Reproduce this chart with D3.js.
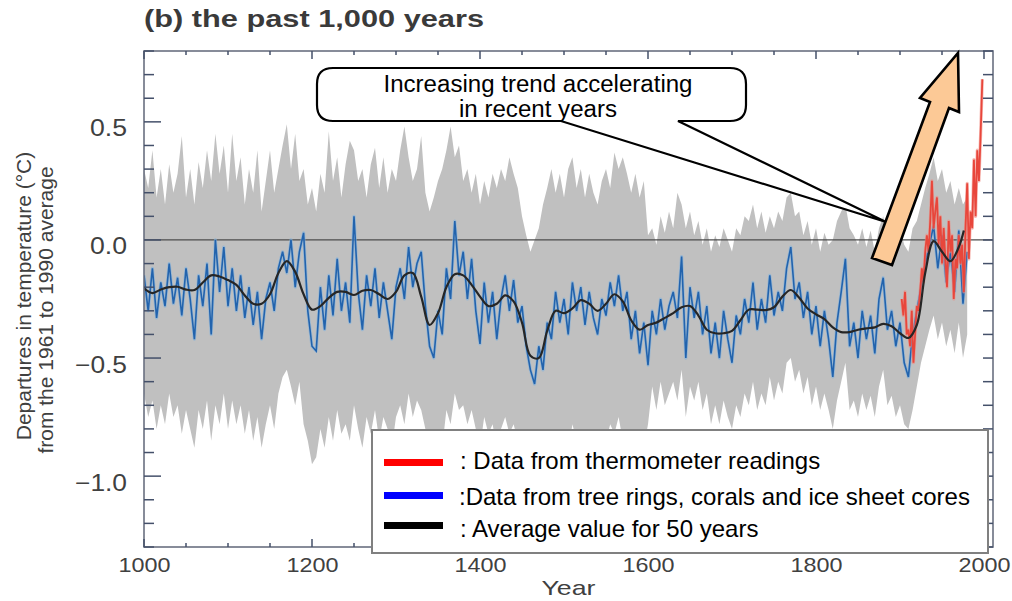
<!DOCTYPE html>
<html>
<head>
<meta charset="utf-8">
<script src="https://cdn.jsdelivr.net/npm/d3@7"></script>
<style>
  html, body { margin: 0; padding: 0; background: #fff; }
  svg { display: block; font-family: "Liberation Sans", Arial, Helvetica, sans-serif; }
</style>
</head>
<body>
<svg id="chart" width="1012" height="601"></svg>
<script>
// ---------------- DATA ----------------
const title = "(b) the past 1,000 years";
const xTickValues = [1000, 1200, 1400, 1600, 1800, 2000];
const yTickValues = [0.5, 0.0, -0.5, -1.0];
const yTickLabels = ["0.5", "0.0", "\u22120.5", "\u22121.0"];

// proxy reconstruction, sampled every 5 years 1000..1980
const proxyYears = d3.range(1000, 1981, 5);
const proxyValues = [
  -0.15,-0.30,-0.12,-0.33,-0.18,-0.28,-0.10,-0.27,-0.16,-0.32,-0.12,-0.25,-0.42,-0.15,-0.28,-0.10,-0.40,-0.00,-0.22,-0.03,
  -0.28,-0.12,-0.30,-0.15,-0.33,-0.20,-0.36,-0.22,-0.42,-0.25,-0.18,-0.30,-0.12,-0.05,-0.14,0.00,-0.20,-0.05,0.03,-0.30,
  -0.45,-0.47,-0.20,-0.38,-0.15,-0.32,-0.08,-0.30,-0.18,-0.35,0.10,-0.22,-0.38,-0.15,-0.28,-0.12,-0.33,-0.18,-0.30,-0.42,
  -0.20,-0.12,-0.25,-0.03,-0.20,-0.10,-0.05,-0.28,-0.45,-0.50,-0.30,-0.40,-0.12,-0.25,0.08,-0.15,-0.05,-0.25,-0.08,-0.30,
  -0.44,-0.18,-0.35,-0.22,-0.42,-0.25,-0.15,-0.30,-0.17,-0.35,-0.28,-0.45,-0.55,-0.61,-0.45,-0.55,-0.35,-0.42,-0.22,-0.35,
  -0.25,-0.40,-0.18,-0.30,-0.20,-0.36,-0.22,-0.33,-0.40,-0.25,-0.32,-0.18,-0.28,-0.15,-0.30,-0.22,-0.42,-0.30,-0.48,-0.35,
  -0.53,-0.30,-0.40,-0.25,-0.38,-0.28,-0.22,-0.33,-0.07,-0.50,-0.20,-0.33,-0.22,-0.40,-0.28,-0.48,-0.35,-0.50,-0.30,-0.42,
  -0.52,-0.32,-0.40,-0.25,-0.35,-0.18,-0.38,-0.25,-0.35,-0.15,-0.32,-0.22,-0.30,-0.12,-0.03,-0.25,-0.18,-0.33,-0.22,-0.40,
  -0.28,-0.45,-0.30,-0.42,-0.58,-0.35,-0.22,-0.08,-0.45,-0.35,-0.50,-0.30,-0.42,-0.32,-0.48,-0.25,-0.16,-0.38,-0.30,-0.45,
  -0.35,-0.52,-0.58,-0.40,-0.30,-0.20,-0.10,-0.02,0.06,-0.12,0.02,-0.18,-0.05,-0.22,0.04,-0.27,-0.05
];
// uncertainty band (grey), same years
const bandUpper = [
  0.30,0.22,0.38,0.18,0.30,0.15,0.32,0.20,0.28,0.44,0.18,0.30,0.15,0.33,0.22,0.38,0.25,0.45,0.28,0.40,
  0.20,0.45,0.25,0.35,0.15,0.30,0.20,0.38,0.12,0.25,0.38,0.20,0.30,0.40,0.49,0.30,0.45,0.25,0.30,0.15,
  0.22,0.12,0.28,0.20,0.46,0.25,0.35,0.18,0.32,0.42,0.38,0.25,0.30,0.18,0.32,0.39,0.22,0.35,0.20,0.30,
  0.25,0.38,0.48,0.35,0.25,0.30,0.44,0.20,0.12,0.18,0.25,0.30,0.38,0.48,0.35,0.40,0.25,0.30,0.20,0.28,
  0.15,0.25,0.18,0.28,0.22,0.30,0.25,0.35,0.28,0.22,0.10,0.02,-0.05,0.00,0.05,0.15,0.22,0.30,0.20,0.28,
  0.18,0.30,0.35,0.22,0.30,0.18,0.28,0.20,0.15,0.25,0.30,0.22,0.37,0.30,0.35,0.28,0.20,0.28,0.18,0.25,
  0.02,0.05,-0.02,0.10,0.03,0.12,0.05,0.20,0.15,0.05,0.12,0.02,0.08,-0.02,0.05,-0.05,0.02,-0.03,0.05,0.00,
  -0.05,0.05,0.02,0.10,0.08,0.15,0.05,0.12,0.03,0.10,0.05,0.12,0.08,0.18,0.20,0.10,0.12,0.02,0.08,-0.02,
  0.05,-0.05,0.03,-0.02,0.00,0.08,0.12,0.15,0.05,0.02,-0.02,0.05,-0.03,0.04,-0.05,0.05,0.10,0.00,0.03,-0.05,
  0.05,-0.02,-0.05,0.05,0.08,0.15,0.22,0.28,0.35,0.25,0.30,0.20,0.25,0.15,0.22,0.15,0.18
];
const bandLower = [
  -0.65,-0.75,-0.68,-0.80,-0.70,-0.78,-0.65,-0.75,-0.70,-0.82,-0.72,-0.80,-0.88,-0.72,-0.80,-0.68,-0.85,-0.70,-0.78,-0.65,
  -0.80,-0.68,-0.78,-0.70,-0.82,-0.72,-0.85,-0.75,-0.88,-0.78,-0.70,-0.80,-0.65,-0.58,-0.55,-0.62,-0.70,-0.60,-0.78,-0.85,
  -0.95,-0.92,-0.80,-0.88,-0.75,-0.85,-0.72,-0.82,-0.78,-0.85,-0.70,-0.80,-0.88,-0.75,-0.82,-0.72,-0.85,-0.75,-0.80,-0.88,
  -0.75,-0.70,-0.78,-0.65,-0.75,-0.68,-0.72,-0.80,-0.88,-0.92,-0.85,-0.88,-0.72,-0.78,-0.65,-0.72,-0.70,-0.78,-0.72,-0.80,
  -0.88,-0.75,-0.82,-0.78,-0.88,-0.80,-0.75,-0.82,-0.78,-0.85,-0.82,-0.90,-0.98,-1.02,-0.95,-0.98,-0.88,-0.92,-0.80,-0.88,
  -0.82,-0.90,-0.78,-0.85,-0.80,-0.88,-0.80,-0.85,-0.90,-0.82,-0.85,-0.78,-0.82,-0.75,-0.85,-0.80,-0.90,-0.85,-0.95,-0.88,
  -0.78,-0.62,-0.72,-0.60,-0.70,-0.65,-0.60,-0.68,-0.55,-0.75,-0.62,-0.68,-0.60,-0.72,-0.65,-0.78,-0.70,-0.78,-0.68,-0.75,
  -0.80,-0.70,-0.75,-0.65,-0.70,-0.60,-0.72,-0.65,-0.70,-0.58,-0.68,-0.60,-0.65,-0.52,-0.50,-0.60,-0.55,-0.65,-0.58,-0.70,
  -0.62,-0.72,-0.65,-0.72,-0.80,-0.68,-0.60,-0.52,-0.72,-0.68,-0.75,-0.65,-0.72,-0.66,-0.75,-0.62,-0.55,-0.70,-0.66,-0.75,
  -0.70,-0.78,-0.80,-0.72,-0.62,-0.52,-0.45,-0.38,-0.32,-0.42,-0.35,-0.45,-0.38,-0.48,-0.35,-0.50,-0.40
];
// 50-year smoothed average
const smoothYears = [
  1000,1010,1020,1030,1040,1050,1060,1070,1080,1090,1100,1110,1120,1130,1140,1150,1160,1170,1180,1190,
  1200,1210,1220,1230,1240,1250,1260,1270,1280,1290,1300,1310,1320,1330,1340,1350,1360,1370,1380,1390,
  1400,1410,1420,1430,1440,1450,1460,1470,1480,1490,1500,1510,1520,1530,1540,1550,1560,1570,1580,1590,
  1600,1610,1620,1630,1640,1650,1660,1670,1680,1690,1700,1710,1720,1730,1740,1750,1760,1770,1780,1790,
  1800,1810,1820,1830,1840,1850,1860,1870,1880,1890,1900,1910,1920,1930,1940,1950,1960,1970,1976
];
const smoothValues = [
  -0.205,-0.225,-0.21,-0.20,-0.198,-0.21,-0.212,-0.18,-0.15,-0.155,-0.17,-0.19,-0.235,-0.27,-0.27,-0.23,-0.14,-0.09,-0.135,-0.23,
  -0.295,-0.28,-0.245,-0.22,-0.22,-0.233,-0.215,-0.212,-0.23,-0.25,-0.22,-0.15,-0.14,-0.24,-0.36,-0.31,-0.20,-0.145,-0.15,-0.19,
  -0.24,-0.28,-0.27,-0.235,-0.26,-0.35,-0.49,-0.50,-0.385,-0.30,-0.31,-0.29,-0.255,-0.27,-0.30,-0.27,-0.23,-0.26,-0.34,-0.38,
  -0.36,-0.35,-0.33,-0.31,-0.285,-0.28,-0.32,-0.38,-0.395,-0.395,-0.385,-0.34,-0.295,-0.295,-0.297,-0.285,-0.24,-0.212,-0.245,-0.29,
  -0.315,-0.335,-0.37,-0.39,-0.39,-0.38,-0.374,-0.37,-0.355,-0.365,-0.395,-0.415,-0.36,-0.14,-0.005,-0.05,-0.09,-0.03,0.04
];
// instrumental (thermometer) record, every 2 years 1902..1998
const instYears = d3.range(1902, 1999, 2);
const instValues = [
  -0.25,-0.32,-0.22,-0.40,-0.38,-0.45,-0.30,-0.52,-0.40,-0.28,-0.30,-0.22,-0.12,-0.18,-0.05,0.02,-0.05,0.08,0.25,0.05,
  0.12,0.18,-0.02,0.10,-0.10,0.05,-0.08,-0.20,0.08,-0.05,0.02,-0.25,-0.08,-0.12,0.02,-0.10,-0.02,-0.22,0.05,0.24,
  -0.08,0.12,0.05,0.34,0.10,0.38,0.25,0.45,0.68
];
const legendItems = [
  { color: "#ff0000", label: ": Data from thermometer readings" },
  { color: "#0000ff", label: ":Data from tree rings, corals and ice sheet cores" },
  { color: "#000000", label: ": Average value for 50 years" }
];
const calloutLines = ["Increasing trend accelerating", "in recent years"];

// ---------------- LAYOUT ----------------
const svg = d3.select("#chart");
const L = 144, T = 51, R = 993, B = 547;
const x = d3.scaleLinear().domain([1000, 2000]).range([L, 984]);
const y = d3.scaleLinear().domain([-1.3, 0.8]).range([B, T]);

svg.append("defs").append("clipPath").attr("id", "plotclip")
  .append("rect").attr("x", L).attr("y", T).attr("width", R - L).attr("height", B - T);

const plot = svg.append("g").attr("clip-path", "url(#plotclip)");

// grey uncertainty band
const band = proxyYears.map((yr, i) => ({ yr, lo: bandLower[i], hi: bandUpper[i] }));
plot.append("path").datum(band)
  .attr("fill", "#c0c0c0")
  .attr("d", d3.area().x(d => x(d.yr)).y0(d => y(d.lo)).y1(d => y(d.hi)));

// zero line
plot.append("line")
  .attr("x1", L).attr("x2", R).attr("y1", y(0)).attr("y2", y(0))
  .attr("stroke", "#4d4d4d").attr("stroke-width", 1.3);

// proxy series (blue)
const proxy = proxyYears.map((yr, i) => ({ yr, v: proxyValues[i] }));
const lineV = d3.line().x(d => x(d.yr)).y(d => y(d.v));
plot.append("path").datum(proxy)
  .attr("fill", "none").attr("stroke", "#7fb0de").attr("stroke-width", 3.2).attr("stroke-opacity", 0.6)
  .attr("stroke-linejoin", "round").attr("d", lineV);
plot.append("path").datum(proxy)
  .attr("fill", "none").attr("stroke", "#2263ad").attr("stroke-width", 1.6)
  .attr("d", lineV);

// instrumental series (red)
const inst = instYears.map((yr, i) => ({ yr, v: instValues[i] }));
plot.append("path").datum(inst)
  .attr("fill", "none").attr("stroke", "#f08a80").attr("stroke-width", 3.2).attr("stroke-opacity", 0.6)
  .attr("stroke-linejoin", "round").attr("d", lineV);
plot.append("path").datum(inst)
  .attr("fill", "none").attr("stroke", "#e8463b").attr("stroke-width", 1.8)
  .attr("d", lineV);

// smoothed series (black)
const smooth = smoothYears.map((yr, i) => ({ yr, v: smoothValues[i] }));
plot.append("path").datum(smooth)
  .attr("fill", "none").attr("stroke", "#262626").attr("stroke-width", 2.2)
  .attr("d", d3.line().curve(d3.curveCatmullRom).x(d => x(d.yr)).y(d => y(d.v)));

// ---------------- AXES / FRAME ----------------
const tickColor = "#44506a";
svg.append("rect").attr("x", L).attr("y", T).attr("width", R - L).attr("height", B - T)
  .attr("fill", "none").attr("stroke", "#6a7080").attr("stroke-width", 1.6);

const ticksG = svg.append("g").attr("stroke", tickColor).attr("stroke-width", 1.5);
const yMinor = y.ticks(20);
yMinor.forEach(v => {
  const major = Math.abs(v * 2 - Math.round(v * 2)) < 1e-6;
  ticksG.append("line").attr("x1", L).attr("x2", L + (major ? 17 : 10)).attr("y1", y(v)).attr("y2", y(v));
  ticksG.append("line").attr("x1", R).attr("x2", R - 10).attr("y1", y(v)).attr("y2", y(v));
});
const xMinor = x.ticks(20);
xMinor.forEach(v => {
  const major = v % 200 === 0;
  const len = major ? 8 : 4;
  ticksG.append("line").attr("x1", x(v)).attr("x2", x(v)).attr("y1", T).attr("y2", T + len);
  ticksG.append("line").attr("x1", x(v)).attr("x2", x(v)).attr("y1", B).attr("y2", B - len);
});

// x-axis labels via d3 axis
const xAxis = svg.append("g").attr("transform", `translate(0,${B})`)
  .call(d3.axisBottom(x).tickValues(xTickValues).tickSize(0).tickFormat(d3.format("d")));
xAxis.select(".domain").remove();
xAxis.selectAll("text")
  .attr("y", 25).attr("dy", 0)
  .attr("font-size", 21).attr("fill", "#404040")
  .attr("font-family", "'Liberation Sans', Arial, sans-serif")
  .attr("textLength", 52).attr("lengthAdjust", "spacingAndGlyphs");

// y-axis labels via d3 axis
const yAxis = svg.append("g").attr("transform", `translate(${L},0)`)
  .call(d3.axisLeft(y).tickValues(yTickValues).tickSize(0)
    .tickFormat((d, i) => yTickLabels[i]));
yAxis.select(".domain").remove();
yAxis.selectAll("text")
  .attr("x", -17).attr("dy", 0).attr("y", 14)
  .attr("font-size", 23).attr("fill", "#404040")
  .attr("font-family", "'Liberation Sans', Arial, sans-serif")
  .attr("textLength", (d, i) => yTickLabels[i].length > 3 ? 52 : 37)
  .attr("lengthAdjust", "spacingAndGlyphs");

// axis titles
svg.append("text").attr("x", (L + R) / 2).attr("y", 595)
  .attr("text-anchor", "middle").attr("font-size", 21).attr("fill", "#404040")
  .attr("textLength", 54).attr("lengthAdjust", "spacingAndGlyphs")
  .text("Year");
svg.append("text").attr("transform", "translate(31,296) rotate(-90)")
  .attr("text-anchor", "middle").attr("font-size", 21).attr("fill", "#404040")
  .text("Departures in temperature (\u00B0C)");
svg.append("text").attr("transform", "translate(53,310) rotate(-90)")
  .attr("text-anchor", "middle").attr("font-size", 21).attr("fill", "#404040")
  .text("from the 1961 to 1990 average");

// title
svg.append("text").attr("x", 144).attr("y", 27)
  .attr("font-size", 24).attr("font-weight", "bold").attr("fill", "#3a3a3a")
  .attr("textLength", 340).attr("lengthAdjust", "spacingAndGlyphs")
  .text(title);

// ---------------- CALLOUT ----------------
const cb = { x0: 317, x1: 746, y0: 68, y1: 121, r: 16 };
const tail = { a: 561, b: 678, tipX: 886, tipY: 222 };
const cp = d3.path();
cp.moveTo(cb.x0 + cb.r, cb.y0);
cp.lineTo(cb.x1 - cb.r, cb.y0);
cp.quadraticCurveTo(cb.x1, cb.y0, cb.x1, cb.y0 + cb.r);
cp.lineTo(cb.x1, cb.y1 - cb.r);
cp.quadraticCurveTo(cb.x1, cb.y1, cb.x1 - cb.r, cb.y1);
cp.lineTo(tail.b, cb.y1);
cp.lineTo(tail.tipX, tail.tipY);
cp.lineTo(tail.a, cb.y1);
cp.lineTo(cb.x0 + cb.r, cb.y1);
cp.quadraticCurveTo(cb.x0, cb.y1, cb.x0, cb.y1 - cb.r);
cp.lineTo(cb.x0, cb.y0 + cb.r);
cp.quadraticCurveTo(cb.x0, cb.y0, cb.x0 + cb.r, cb.y0);
cp.closePath();
svg.append("path").attr("d", cp.toString())
  .attr("fill", "#ffffff").attr("stroke", "#000").attr("stroke-width", 2.2).attr("stroke-linejoin", "miter");
svg.selectAll(".callout-text").data(calloutLines).join("text")
  .attr("class", "callout-text")
  .attr("x", 538).attr("y", (d, i) => 92 + i * 25)
  .attr("text-anchor", "middle").attr("font-size", 23).attr("fill", "#000")
  .attr("textLength", (d, i) => i === 0 ? 309 : 158).attr("lengthAdjust", "spacingAndGlyphs")
  .text(d => d);

// ---------------- BIG ARROW ----------------
const arrowPts = [[958, 53], [959, 112], [949, 108], [892, 265], [872, 258], [930, 102], [920, 98]];
svg.append("path").attr("d", d3.line()(arrowPts) + "Z")
  .attr("fill", "#fcc996").attr("stroke", "#000").attr("stroke-width", 2.6).attr("stroke-linejoin", "miter");

// ---------------- LEGEND ----------------
const lg = svg.append("g");
lg.append("rect").attr("x", 372).attr("y", 430).attr("width", 616).attr("height", 123)
  .attr("fill", "#fff").attr("stroke", "#808080").attr("stroke-width", 2);
const rowY = [462.5, 495.5, 525.5];
const rowBase = [469, 505, 537];
const rowX = [460, 459, 460];
legendItems.forEach((it, i) => {
  lg.append("line").attr("x1", 384).attr("x2", 443).attr("y1", rowY[i]).attr("y2", rowY[i])
    .attr("stroke", it.color).attr("stroke-width", 7);
  lg.append("text").attr("x", rowX[i]).attr("y", rowBase[i])
    .attr("font-size", 24).attr("fill", "#000").text(it.label);
});
</script>
</body>
</html>
